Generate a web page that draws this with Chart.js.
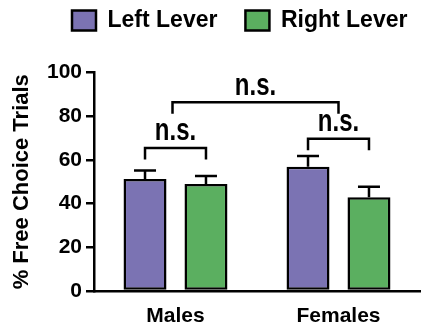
<!DOCTYPE html>
<html>
<head>
<meta charset="utf-8">
<script src="https://cdn.jsdelivr.net/npm/chart.js@4"></script>
<style>
  html, body { margin: 0; padding: 0; background: #fff; }
  #wrap { width: 422px; height: 333px; }
</style>
</head>
<body>
<div id="wrap"><canvas id="chart"></canvas></div>
<script>
const categories = ['Males', 'Females'];
const seriesNames = ['Left Lever', 'Right Lever'];
const leftLever = [51.3, 56.9];
const rightLever = [49.0, 42.9];
const leftLeverErr = [3.9, 4.9];   // upper SEM only
const rightLeverErr = [3.6, 4.8];
const yTicks = [0, 20, 40, 60, 80, 100];

// significance brackets (y values): left vs right within each sex, then males vs females
const pairBracketTop = [65.5, 69.7];
const sexBracketTop = 86.4;
const bracketLeg = 5.3;
const bracketText = 'n.s.';

const FONT = '"Liberation Sans", Arial, Helvetica, sans-serif';

const errorBarsAndBrackets = {
    id: 'errorBarsAndBrackets',
    afterLayout(chart) {
        // legend sits left of center and close to the top in the original
        chart.legend.left = 44;
        chart.legend.right = 480; // keep both items on one row
        chart.legend.top = -19;
    },
    afterDatasetsDraw(chart) {
        const ctx = chart.ctx;
        const y = chart.scales.y;
        const x = chart.scales.x;
        const errs = [leftLeverErr, rightLeverErr];

        ctx.save();
        ctx.strokeStyle = '#000';
        ctx.fillStyle = '#000';
        ctx.lineWidth = 2.5;

        chart.data.datasets.forEach((ds, di) => {
            chart.getDatasetMeta(di).data.forEach((bar, i) => {
                const top = y.getPixelForValue(ds.data[i] + errs[di][i]);
                ctx.beginPath();
                ctx.moveTo(bar.x, bar.y);
                ctx.lineTo(bar.x, top);
                ctx.moveTo(bar.x - 11, top);
                ctx.lineTo(bar.x + 11, top);
                ctx.stroke();
            });
        });

        ctx.font = 'bold 24px ' + FONT;
        ctx.textAlign = 'center';
        ctx.textBaseline = 'alphabetic';

        function bracket(x1, x2, v) {
            const yt = y.getPixelForValue(v);
            const yl = y.getPixelForValue(v - bracketLeg);
            ctx.beginPath();
            ctx.moveTo(x1, yl);
            ctx.lineTo(x1, yt);
            ctx.lineTo(x2, yt);
            ctx.lineTo(x2, yl);
            ctx.stroke();
            // the original "n.s." is drawn tall and narrow
            ctx.save();
            ctx.translate((x1 + x2) / 2, yt - 7.5);
            ctx.scale(1, 1.3);
            ctx.fillText(bracketText, 0, 0);
            ctx.restore();
        }

        const leftBars = chart.getDatasetMeta(0).data;
        const rightBars = chart.getDatasetMeta(1).data;
        categories.forEach((c, i) => bracket(leftBars[i].x, rightBars[i].x, pairBracketTop[i]));
        bracket(x.getPixelForValue(0) - 3, x.getPixelForValue(1), sexBracketTop);

        ctx.restore();
    }
};

new Chart(document.getElementById('chart'), {
    type: 'bar',
    data: {
        labels: categories,
        datasets: [
            {
                label: seriesNames[0],
                data: leftLever,
                backgroundColor: '#7B73B3',
                borderColor: '#000',
                borderWidth: 2.5,
                borderSkipped: false
            },
            {
                label: seriesNames[1],
                data: rightLever,
                backgroundColor: '#5BAF60',
                borderColor: '#000',
                borderWidth: 2.5,
                borderSkipped: false
            }
        ]
    },
    options: {
        responsive: true,
        maintainAspectRatio: false,
        animation: false,
        layout: { padding: { top: 11.5, right: 2, left: 0, bottom: 0 } },
        datasets: {
            bar: { categoryPercentage: 0.748, barPercentage: 0.705 }
        },
        plugins: {
            legend: {
                position: 'top',
                align: 'start',
                labels: {
                    color: '#000',
                    font: { family: FONT, size: 23, weight: 'bold' },
                    boxWidth: 24,
                    boxHeight: 20,
                    padding: 28
                }
            },
            tooltip: { enabled: false }
        },
        scales: {
            x: {
                grid: { display: false, drawTicks: false },
                border: { display: true, color: '#000', width: 2.5 },
                ticks: {
                    color: '#000',
                    font: { family: FONT, size: 21, weight: 'bold' },
                    padding: 13
                },
                afterFit: (s) => { s.height = 42; }
            },
            y: {
                min: 0,
                max: 100,
                afterBuildTicks: (s) => { s.ticks = yTicks.map(v => ({ value: v })); },
                ticks: {
                    color: '#000',
                    font: { family: FONT, size: 21, weight: 'bold' },
                    padding: 4
                },
                grid: { drawOnChartArea: false, color: '#000', lineWidth: 2.5, tickLength: 8 },
                border: { color: '#000', width: 2.5 },
                title: {
                    display: true,
                    text: '% Free Choice Trials',
                    color: '#000',
                    font: { family: FONT, size: 22, weight: 'bold' },
                    padding: { top: 9, bottom: 0 }
                },
                afterFit: (s) => { s.width = 94; }
            }
        }
    },
    plugins: [errorBarsAndBrackets]
});
</script>
</body>
</html>
